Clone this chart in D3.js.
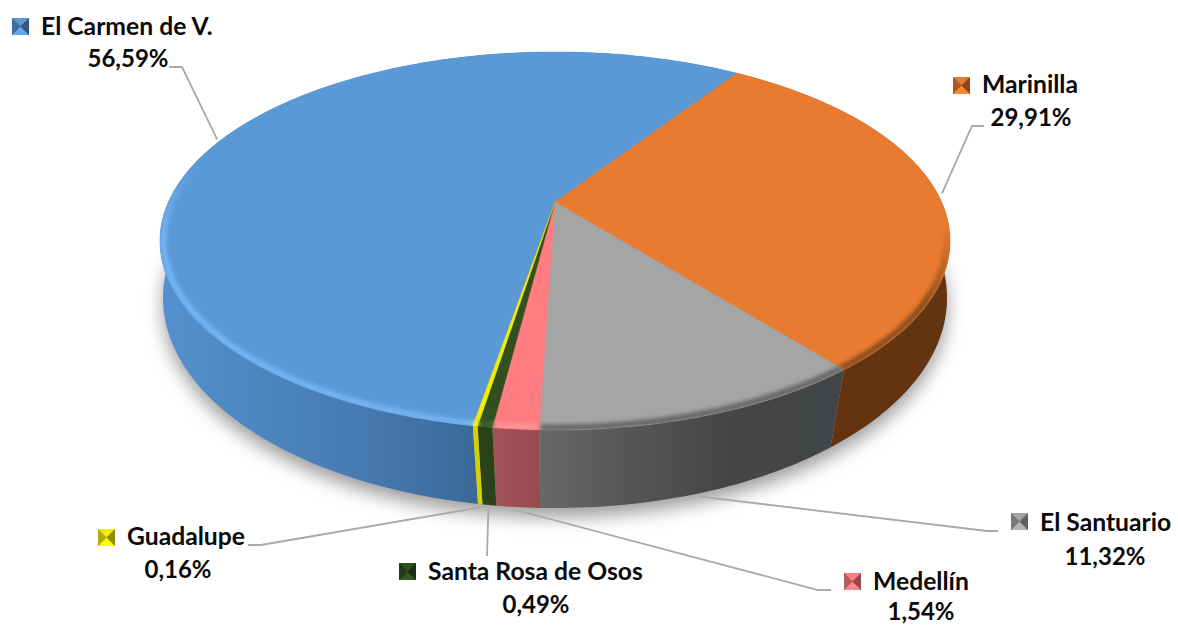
<!DOCTYPE html>
<html><head><meta charset="utf-8">
<script src="https://cdn.jsdelivr.net/npm/d3@7"></script>
<style>html,body{margin:0;padding:0;background:#fff}svg{display:block}text{font-family:Lato,"Open Sans",sans-serif;font-weight:700;fill:#0a0a0a}</style>
</head><body><svg id="c" width="1178" height="627"></svg>
<script>
const categories = ["El Carmen de V.","Marinilla","El Santuario","Medellín","Santa Rosa de Osos","Guadalupe"];
const shares = [56.59,29.91,11.32,1.54,0.49,0.16];
const valueLabels = ["56,59%","29,91%","11,32%","1,54%","0,49%","0,16%"];
const topColors = ["#5b98d6","#e97b30","#a5a5a5","#ff7c80","#31501f","#f2ee00"];
const rimColors = ["#74b8f7","#84481a","#626262","#ff9498","#3d6028","#ffff40"];
const rimFade = [[165,235],[225,300],[300,340],[300,340],[300,340],[300,340]];
const wallStops = [
  [["#5591cf",0],["#4c87c0",.3],["#467ab0",.65],["#3b6a99",1]],
  [["#63340f",0],["#63340f",1]],
  [["#686868",0],["#565656",.3],["#464646",.6],["#414547",1]],
  [["#a5545a",0],["#99494e",1]],
  [["#28421a",0],["#28421a",1]],
  [["#d6d000",0],["#d6d000",1]]
];
const labelLayout = [
  {key:[12,18],name:[41,35],val:[128,67],leader:[[169,67],[182,67]],lower:false},
  {key:[953,77],name:[982,93],val:[1031,126],leader:[[984,126],[972,126]],lower:false},
  {key:[1011,513],name:[1040,531],val:[1105,565],leader:[[998,531],[987,531]],lower:true},
  {key:[844,573],name:[873,590],val:[921,620],leader:[[831,590],[818,590]],lower:true},
  {key:[399,563],name:[428,580],val:[536,613],leader:[[487,556]],lower:true},
  {key:[98,529],name:[127,545],val:[178,578],leader:[[248,545],[261,545]],lower:true}
];
const nameSize = 24.7, valueSize = 24, keySize = 17;

const rad = d => d*Math.PI/180;
const svg = d3.select("#c");
const defs = svg.append("defs");
const topPlane = {cx:555,cy:202,a:386.6,b:181,k:.206};
const basePlane = {cx:555,cy:266.5,a:387.6,b:205.3,k:.15};
const project = (p,ang,r=1)=>{const u=r*Math.sin(ang),v=-r*Math.cos(ang),w=1-p.k*v;return [p.cx+p.a*u/w,p.cy+p.b*v/w];};
const line = d3.line();
const sample = (a0,a1)=>{const n=Math.max(2,Math.ceil(Math.abs(a1-a0)/rad(1)));return d3.range(n+1).map(i=>a0+(a1-a0)*i/n);};

const arcs = d3.pie().sort(null).value(d=>d).startAngle(rad(-170.25)).endAngle(rad(189.75))(shares);
const fill = d3.scaleOrdinal(categories,topColors);

defs.append("filter").attr("id","shadow").attr("x",-.1).attr("y",-.2).attr("width",1.2).attr("height",1.4)
  .append("feGaussianBlur").attr("stdDeviation",9);
defs.append("filter").attr("id","rim").attr("filterUnits","userSpaceOnUse").attr("x",0).attr("y",0).attr("width",1178).attr("height",627)
  .append("feGaussianBlur").attr("stdDeviation",2.2);
const full = sample(0,2*Math.PI);
defs.append("clipPath").attr("id","topClip").append("path").attr("d",line(full.map(t=>project(topPlane,t)))+"Z");

// shadow
svg.append("path").attr("d",line(full.map(t=>project(basePlane,t)))+"Z")
  .attr("transform","translate(0,9)").attr("fill","#9c9c9c").attr("filter","url(#shadow)");

// walls
arcs.forEach((d,i)=>{
  const ts = sample(d.startAngle,d.endAngle);
  const topPts = ts.map(t=>project(topPlane,t));
  const basePts = ts.map(t=>project(basePlane,t)).reverse();
  const xs = topPts.filter(p=>p[1]>220).map(p=>p[0]);
  const g = defs.append("linearGradient").attr("id","wall"+i).attr("gradientUnits","userSpaceOnUse")
    .attr("x1",d3.min(xs)).attr("x2",d3.max(xs)).attr("y1",0).attr("y2",0);
  wallStops[i].forEach(s=>g.append("stop").attr("offset",s[1]).attr("stop-color",s[0]));
  svg.append("path").attr("d",line(topPts.concat(basePts))+"Z").attr("fill",`url(#wall${i})`);
});

// top faces
arcs.forEach((d,i)=>{
  const pts = [[topPlane.cx,topPlane.cy]].concat(sample(d.startAngle,d.endAngle).map(t=>project(topPlane,t)));
  svg.append("path").attr("d",line(pts)+"Z").attr("fill",fill(categories[i])).attr("stroke",fill(categories[i])).attr("stroke-width",.4);
});

// bevel rim, fading out towards the back of the disc
const rimG = svg.append("g").attr("clip-path","url(#topClip)");
arcs.forEach((d,i)=>{
  const ts = sample(d.startAngle,d.endAngle).filter(t=>-Math.cos(t)>-.6);
  if(ts.length<2) return;
  const g = defs.append("linearGradient").attr("id","rimGrad"+i).attr("gradientUnits","userSpaceOnUse")
    .attr("x1",0).attr("x2",0).attr("y1",rimFade[i][0]).attr("y2",rimFade[i][1]);
  g.append("stop").attr("offset",0).attr("stop-color",rimColors[i]).attr("stop-opacity",0);
  g.append("stop").attr("offset",1).attr("stop-color",rimColors[i]).attr("stop-opacity",1);
  rimG.append("path").attr("d",line(ts.map(t=>project(topPlane,t,.992))))
    .attr("fill","none").attr("stroke",`url(#rimGrad${i})`).attr("stroke-width",6).attr("filter","url(#rim)");
});

// leaders
arcs.forEach((d,i)=>{
  const l = labelLayout[i], mid=(d.startAngle+d.endAngle)/2;
  const start = l.lower ? project(basePlane,mid,1.012) : project(topPlane,mid,1.012);
  svg.append("path").attr("d",line([start].concat(l.leader.slice().reverse())))
    .attr("fill","none").attr("stroke","#a9a9a9").attr("stroke-width",1.8);
});

// labels & keys
categories.forEach((c,i)=>{
  const l = labelLayout[i], base = d3.color(topColors[i]);
  const [x,y]=l.key, s=keySize, m=[x+s/2,y+s/2];
  svg.append("rect").attr("x",x).attr("y",y).attr("width",s).attr("height",s).attr("fill",base.darker(.6).formatHex());
  const tris = [
    [[x,y],[x+s,y],m, base.formatHex()],
    [[x,y+s],[x+s,y+s],m, base.brighter(.25).formatHex()],
    [[x,y],[x,y+s],m, base.darker(.9).formatHex()],
    [[x+s,y],[x+s,y+s],m, base.darker(1.5).formatHex()]
  ];
  tris.forEach(t=>svg.append("path").attr("d",line(t.slice(0,3))+"Z").attr("fill",t[3]));
  svg.append("text").attr("x",l.name[0]).attr("y",l.name[1]).attr("font-size",nameSize).text(c);
  svg.append("text").attr("x",l.val[0]).attr("y",l.val[1]).attr("font-size",valueSize).attr("text-anchor","middle").text(valueLabels[i]);
});
</script></body></html>
